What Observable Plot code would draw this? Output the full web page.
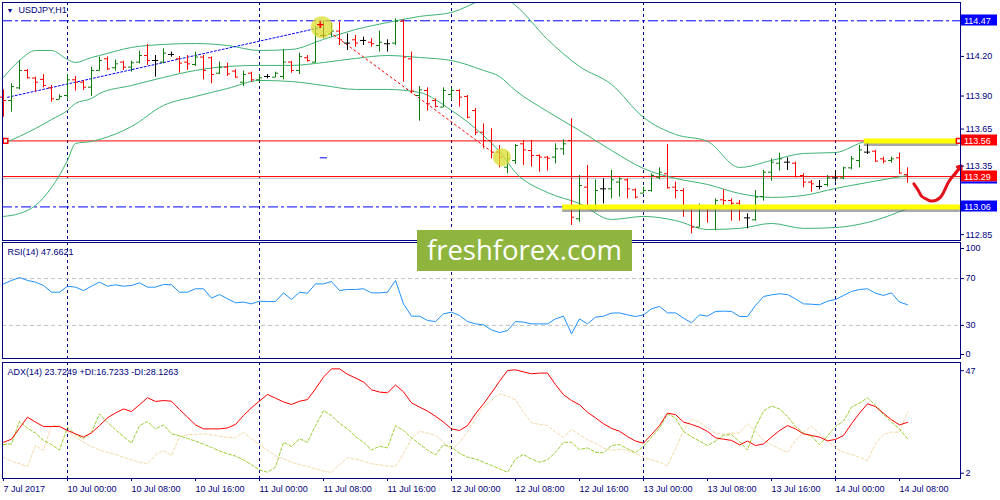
<!DOCTYPE html>
<html><head><meta charset="utf-8">
<script src="https://cdn.jsdelivr.net/npm/d3@7"></script>
<script src="https://cdn.jsdelivr.net/npm/@observablehq/plot@0.6"></script>
<style>
html,body{margin:0;padding:0;background:#fff;}
#wrap{position:relative;width:1000px;height:500px;overflow:hidden;}
.panel{position:absolute;left:0;width:1000px;}
.wm{position:absolute;left:417px;top:230px;width:215px;height:41px;background:#8fb53f;color:#fff;font-family:"Open Sans",sans-serif;font-size:27.5px;line-height:40px;text-align:center;}
</style></head><body>
<div id="wrap">
  <div class="panel" id="p1" style="top:0"></div>
  <div class="panel" id="p2" style="top:240px"></div>
  <div class="panel" id="p3" style="top:360px"></div>
  <div class="wm">freshforex.com</div>
</div>
<script>
// ---- OHLC, USDJPY H1, bar 0 = 7 Jul 16:00 ... bar 113 = 14 Jul 09:00
const open = [113.892,113.866,113.962,114.094,114.036,114.026,113.962,113.874,113.904,114.023,114.005,113.967,114.094,114.182,114.114,114.157,114.119,114.157,114.207,114.169,114.157,114.215,114.182,114.157,114.139,114.195,114.190,114.073,114.119,114.089,114.005,114.073,114.023,114.048,114.043,114.048,114.157,114.094,114.190,114.157,114.359,114.371,114.392,114.301,114.326,114.321,114.308,114.283,114.296,114.301,114.467,114.182,113.904,113.942,113.866,113.816,113.912,113.942,113.897,113.790,113.626,113.563,113.475,113.361,113.412,113.538,113.487,113.450,113.437,113.437,113.500,113.563,112.970,113.210,113.046,113.197,113.197,113.248,113.265,113.189,113.164,113.184,113.285,113.311,113.210,113.184,113.046,112.907,113.058,113.046,113.114,113.109,113.088,112.977,112.962,113.139,113.323,113.391,113.399,113.391,113.298,113.248,113.215,113.230,113.280,113.280,113.356,113.412,113.475,113.482,113.424,113.412,113.432,113.306];
const high = [113.947,113.993,114.169,114.101,114.043,114.063,113.980,113.909,114.063,114.048,114.018,114.119,114.195,114.195,114.174,114.164,114.164,114.240,114.291,114.207,114.258,114.233,114.200,114.207,114.233,114.207,114.195,114.157,114.149,114.099,114.089,114.081,114.063,114.063,114.081,114.250,114.162,114.225,114.207,114.427,114.467,114.452,114.460,114.371,114.359,114.346,114.334,114.392,114.326,114.485,114.478,114.233,113.972,113.962,113.879,113.962,113.962,113.947,113.904,113.806,113.689,113.652,113.525,113.475,113.533,113.563,113.563,113.455,113.442,113.538,113.568,113.727,113.298,113.374,113.265,113.273,113.336,113.280,113.273,113.197,113.210,113.311,113.356,113.533,113.248,113.197,113.058,113.083,113.071,113.121,113.189,113.121,113.109,113.008,113.184,113.336,113.424,113.467,113.432,113.399,113.311,113.260,113.260,113.298,113.336,113.361,113.442,113.525,113.568,113.487,113.437,113.437,113.467,113.356];
const low = [113.740,113.778,113.947,114.031,113.930,113.962,113.854,113.871,113.866,113.937,113.942,113.897,114.089,114.094,114.089,114.094,114.081,114.144,114.132,114.043,114.144,114.195,114.073,114.094,114.124,114.023,113.993,114.063,114.048,114.038,113.972,114.005,114.005,114.031,114.038,114.023,114.073,114.063,114.157,114.149,114.334,114.346,114.283,114.245,114.270,114.283,114.270,114.233,114.233,114.283,114.005,113.917,113.710,113.786,113.811,113.811,113.866,113.816,113.728,113.601,113.500,113.424,113.356,113.311,113.381,113.374,113.361,113.323,113.331,113.386,113.450,112.919,112.944,113.033,113.028,113.083,113.121,113.134,113.121,113.121,113.159,113.172,113.265,113.197,113.121,112.982,112.856,112.902,112.937,112.881,113.046,112.952,112.952,112.894,112.952,113.104,113.255,113.331,113.336,113.280,113.205,113.172,113.189,113.210,113.248,113.265,113.341,113.356,113.457,113.399,113.386,113.391,113.311,113.240];
const close = [113.866,113.972,114.094,114.038,114.005,113.980,113.879,113.897,114.023,114.005,113.967,114.094,114.169,114.106,114.144,114.119,114.152,114.207,114.169,114.169,114.225,114.215,114.149,114.144,114.195,114.094,114.063,114.119,114.068,114.043,114.063,114.023,114.038,114.048,114.073,114.157,114.094,114.200,114.169,114.371,114.359,114.392,114.326,114.301,114.301,114.321,114.296,114.308,114.296,114.467,114.195,113.937,113.947,113.841,113.821,113.942,113.942,113.892,113.740,113.626,113.563,113.475,113.437,113.424,113.525,113.492,113.450,113.437,113.429,113.500,113.538,112.982,113.222,113.058,113.184,113.197,113.265,113.273,113.197,113.134,113.184,113.298,113.323,113.205,113.184,113.046,112.907,113.058,113.046,113.109,113.109,113.088,113.053,112.977,113.134,113.323,113.399,113.424,113.399,113.290,113.248,113.235,113.215,113.280,113.280,113.356,113.424,113.492,113.475,113.407,113.407,113.424,113.316,113.290];

// ---- Bollinger bands, read at these bar indices
const bbIdx   = [0,2,4,6,8,9,11,12,16,20,24,28,32,36,40,44,48,52,56,60,62,64,68,72,76,80,84,88,92,96,100,104,108,113];
const bbUpper = [114.041,114.169,114.245,114.245,114.177,114.154,114.192,114.207,114.268,114.291,114.298,114.283,114.245,114.253,114.329,114.404,114.457,114.503,114.533,114.632,114.662,114.586,114.329,114.124,113.988,113.738,113.609,113.556,113.359,113.412,113.465,113.472,113.556,113.563];
const bbMid   = [113.541,113.594,113.654,113.722,113.791,113.844,113.882,113.919,113.980,114.041,114.094,114.124,114.132,114.132,114.154,114.185,114.207,114.192,114.169,114.094,114.048,113.942,113.783,113.639,113.488,113.351,113.276,113.230,113.162,113.132,113.147,113.200,113.245,113.298];
const bbLower = [112.988,113.010,113.071,113.207,113.412,113.541,113.556,113.571,113.669,113.829,113.897,113.957,114.018,114.010,113.980,113.950,113.950,113.927,113.791,113.601,113.480,113.321,113.169,113.086,112.965,112.988,112.957,112.889,112.897,112.935,112.897,112.904,112.942,113.048];

// ---- RSI(14)
const rsi = [65.5,68.4,70.9,68.4,67.0,64.1,58.4,58.4,63.5,62.7,59.8,63.5,67.0,63.5,64.7,63.5,64.1,66.4,62.7,62.7,65.0,64.7,58.4,58.4,61.3,61.3,53.3,56.4,52.7,49.3,49.9,48.4,50.7,50.4,50.4,57.8,52.1,58.4,57.5,65.5,65.5,67.5,59.8,60.7,60.7,61.3,57.8,57.8,58.4,68.4,48.4,37.9,37.9,34.2,33.3,39.9,41.3,38.5,33.3,31.3,30.5,26.2,23.9,25.6,33.3,32.8,31.3,31.3,31.3,35.6,37.9,22.8,35.6,31.3,37.0,37.9,40.5,40.7,39.0,37.6,39.0,44.2,46.2,40.7,40.7,36.2,32.2,39.0,37.9,41.9,42.2,41.9,37.6,37.6,47.0,54.7,56.1,57.0,56.4,52.7,48.4,48.1,47.6,50.7,52.1,55.6,59.0,60.7,61.3,57.5,55.6,57.8,49.9,47.7];
const rsiLevels = [70, 30];

// ---- ADX(14), +DI, -DI
const adx = [15.2,16.5,21.2,25.9,23.8,21.9,21.9,21.9,20.2,18.8,17.4,19.2,22.3,25.6,27.7,29.4,28.3,31.2,34.2,32.6,33.0,32.7,29.2,25.9,22.6,20.9,20.9,20.9,21.3,22.8,26.6,29.9,32.8,35.6,34.0,32.4,31.3,32.7,33.4,38.0,43.0,46.5,46.5,44.2,42.6,40.9,37.6,36.6,36.3,39.6,36.7,32.0,30.2,28.5,26.3,23.8,20.9,20.2,22.3,27.3,31.6,36.3,41.2,45.8,46.1,45.2,44.4,44.7,44.7,39.8,35.5,33.0,31.2,28.0,25.6,23.1,21.1,19.9,17.6,15.7,14.8,18.5,22.3,27.6,27.0,23.8,22.8,21.6,19.8,17.1,16.5,16.0,14.1,15.7,13.8,14.5,17.4,20.2,22.3,20.9,18.8,18.1,17.4,15.8,16.4,18.1,23.1,27.6,31.6,30.4,27.6,24.8,22.6,23.7];
const plusDI = [14.2,14.5,24.2,21.2,19.1,16.0,14.2,11.9,21.6,18.5,16.7,19.5,27.3,23.8,20.5,17.6,14.8,22.3,24.0,20.9,22.6,18.8,17.9,16.8,15.7,14.4,13.0,11.5,10.3,9.3,7.7,5.6,3.4,2.4,4.6,15.2,13.4,16.7,15.2,22.3,28.7,26.6,23.3,20.9,17.6,15.2,11.9,13.5,12.8,22.3,20.2,17.1,14.5,11.9,9.8,14.1,13.1,10.5,8.8,8.1,6.7,5.3,3.9,2.4,8.1,10.0,8.0,6.7,7.7,10.9,15.2,15.2,12.1,12.8,10.9,10.7,13.8,14.2,12.4,10.8,13.4,17.4,21.2,27.3,25.6,19.8,17.6,15.7,13.8,15.7,18.2,18.5,15.5,11.9,21.6,28.5,30.7,29.4,26.2,21.9,19.1,17.8,14.2,17.9,22.0,24.2,30.2,31.9,34.2,30.9,27.0,23.8,20.9,16.7];
const minusDI = [8.8,7.1,6.0,4.9,13.8,11.7,22.3,22.3,19.5,17.4,15.2,13.4,11.9,10.9,10.0,8.8,7.7,6.7,6.0,9.8,11.7,9.5,17.6,18.5,18.5,18.8,18.4,17.8,17.2,17.1,19.5,16.7,14.1,11.7,9.5,8.1,6.7,5.7,4.9,3.9,2.9,2.3,5.7,8.6,8.0,7.1,6.0,5.6,5.0,4.9,10.3,16.7,19.9,19.1,18.1,15.2,11.9,15.2,19.5,25.2,30.2,33.0,35.9,34.8,33.3,28.0,23.5,22.8,22.3,19.5,17.4,20.6,18.5,16.2,14.8,12.8,11.7,12.2,11.7,10.5,8.8,7.7,6.7,5.1,12.4,20.2,25.0,23.8,21.2,19.1,18.5,19.1,19.2,23.1,19.9,16.0,14.2,12.4,10.9,16.0,19.5,22.0,18.8,15.7,12.8,10.9,10.0,8.8,7.4,14.5,18.5,19.5,19.5,28.1];

// ---- axes / labels
const priceTicks = [114.20, 113.90, 113.65, 112.85];
const priceTicksRaised = [113.35];
const daySep = [8, 32, 56, 80, 104];
const xTickIdx = [0,8,16,24,32,40,48,56,64,72,80,88,96,104,112];
const xTickLabels = ["7 Jul 2017","10 Jul 00:00","10 Jul 08:00","10 Jul 16:00","11 Jul 00:00","11 Jul 08:00","11 Jul 16:00","12 Jul 00:00","12 Jul 08:00","12 Jul 16:00","13 Jul 00:00","13 Jul 08:00","13 Jul 16:00","14 Jul 00:00","14 Jul 08:00"];
const titleText = "USDJPY,H1";
const rsiLabel = "RSI(14) 47.6621";
const adxLabel = "ADX(14) 23.7249 +DI:16.7233 -DI:28.1263";

// ---- drawn objects (bar index / price)
const dashLevels = [114.47, 113.06];
const redLevels = [113.56, 113.29];
const bidLevel = [113.276];
const trendIdx = [0.5, 39.7], trendPrice = [113.89, 114.42];
const fallIdx = [40.8, 61.1], fallPrice = [114.384, 113.475];
const hlPrice = [113.56, 113.06], hlFrom = [107.6, 69.9], hlTo = [119.4, 119.6];
const circleIdx = [39.8, 62.3], circlePrice = [114.422, 113.437];
const anchorIdx = [0.25, 119.4], anchorPrice = [113.56, 113.56];
const dashMarkIdx = [39.6, 40.5], dashMarkPrice = 113.432;
const arrowIdx = [113.8, 114.3, 114.8, 115.5, 116.1, 117.1, 118.2, 119.1];
const arrowPrice = [113.235, 113.19, 113.139, 113.115, 113.104, 113.132, 113.255, 113.322];
const arrowHead = {x1: 118.8, y1: 113.30, x2: 119.7, y2: 113.37};
const boxPrices = [114.47, 113.56, 113.29, 113.06];
const boxColors = ["#0000ff", "#ff0000", "#ff0000", "#0000ff"];

// ---------------------------------------------------------------
const GREEN = "#0c7d0c", RED = "#ff0000", NAVY = "#000080";
const TICK = 0.375;
const bars = open.map((o, i) => ({i, o, h: high[i], l: low[i], c: close[i]}));
const barColor = d => d.c > d.o ? GREEN : d.c < d.o ? RED : "#000000";
const X = {type: "linear", domain: [-0.125, 119.625], range: [2, 960]};
const FONT = "'Liberation Sans', Arial, sans-serif";
const common = {
  width: 1000, marginLeft: 2, marginRight: 40,
  style: {background: "transparent", fontFamily: FONT, fontSize: "9px", color: NAVY, overflow: "visible"}
};
const bandLine = arr => Plot.line(bbIdx, {x: d => d, y: (d, j) => arr[j], stroke: "#3cb371", strokeWidth: 1, curve: "monotone-x", clip: true});

const main = Plot.plot({
  ...common, height: 242, marginTop: 2, marginBottom: 2,
  x: {...X, axis: null},
  y: {domain: [112.8056, 114.6086], range: [240, 2]},
  marks: [
    Plot.ruleX(daySep, {stroke: NAVY, strokeDasharray: "3,3"}),
    Plot.ruleY(bidLevel, {stroke: "#c8c8c8"}),
    Plot.ruleY(dashLevels, {stroke: "#0000ff", strokeDasharray: "10,3,3,3"}),
    Plot.ruleY(redLevels, {stroke: "#ff0000"}),
    bandLine(bbUpper), bandLine(bbMid), bandLine(bbLower),
    Plot.line(trendIdx, {x: d => d, y: (d, j) => trendPrice[j], stroke: "#0000ff", strokeWidth: 1, strokeDasharray: "2,2"}),
    Plot.line(fallIdx, {x: d => d, y: (d, j) => fallPrice[j], stroke: "#ff0000", strokeWidth: 1, strokeDasharray: "2,3"}),
    Plot.ruleY([dashMarkPrice], {x1: dashMarkIdx[0], x2: dashMarkIdx[1], stroke: "#0000ff"}),
    Plot.ruleX(bars, {x: "i", y1: "l", y2: "h", stroke: barColor}),
    Plot.ruleY(bars, {y: "o", x1: d => d.i - TICK, x2: "i", stroke: barColor}),
    Plot.ruleY(bars, {y: "c", x1: "i", x2: d => d.i + TICK, stroke: barColor}),
    Plot.ruleY(hlPrice, {x1: (d, j) => hlFrom[j], x2: (d, j) => hlTo[j], stroke: "#606060", strokeOpacity: 0.55, strokeWidth: 4, dy: 3, ariaLabel: "hlshadow"}),
    Plot.ruleY(hlPrice, {x1: (d, j) => hlFrom[j], x2: (d, j) => hlTo[j], stroke: "#ffff00", strokeWidth: 5, ariaLabel: "hl"}),
    Plot.dot(circleIdx, {x: d => d, y: (d, j) => circlePrice[j], r: 11, fill: "#dcdc30", fillOpacity: 0.75, ariaLabel: "hl", filter: (d, j) => j === 0}),
    Plot.dot(circleIdx, {x: d => d, y: (d, j) => circlePrice[j], r: 9, fill: "#dcdc30", fillOpacity: 0.75, ariaLabel: "hl", filter: (d, j) => j === 1}),
    Plot.text([circleIdx[0]], {x: d => d - 0.2, y: circlePrice[0] + 0.02, text: ["+"], fill: "#ff0000", fontWeight: "bold", fontSize: 13}),
    Plot.dot(anchorIdx, {x: d => d, y: (d, j) => anchorPrice[j], symbol: "square", r: 2.6, stroke: "#ff0000", fill: "#fff"}),
    Plot.line(arrowIdx, {x: d => d, y: (d, j) => arrowPrice[j], stroke: "#e3101a", strokeWidth: 3, curve: "catmull-rom"}),
    Plot.arrow([arrowHead], {x1: "x1", y1: "y1", x2: "x2", y2: "y2", stroke: "#e3101a", strokeWidth: 3, headLength: 15, headAngle: 75}),
    Plot.axisY({anchor: "right", ticks: priceTicks, tickFormat: d => d.toFixed(2), tickSize: 3, tickPadding: 2, label: null}),
    Plot.axisY({anchor: "right", ticks: priceTicksRaised, tickFormat: d => d.toFixed(2), tickSize: 3, tickPadding: 2, dy: -2.5, label: null}),
    Plot.frame({stroke: NAVY}),
    Plot.text(["▼"], {frameAnchor: "top-left", dx: 4, dy: 6, fontSize: 7, textAnchor: "start", lineAnchor: "top", fill: NAVY}),
    Plot.text([titleText], {frameAnchor: "top-left", dx: 16, dy: 4, textAnchor: "start", lineAnchor: "top", fill: NAVY})
  ]
});
document.getElementById("p1").appendChild(main);

// price label boxes at the right axis, positioned by Plot's own y scale
{
  const ys = main.scale("y");
  const svg = d3.select(main);
  svg.selectAll('[aria-label="hl"]').style("mix-blend-mode", "multiply");
  svg.selectAll('[aria-label="hlshadow"]').style("filter", "blur(1.5px)");
  const g = svg.append("g").attr("text-anchor", "start");
  boxPrices.forEach((p, k) => {
    const y = Math.round(ys.apply(p));
    g.append("rect").attr("x", 961).attr("y", y - 5.5).attr("width", 36).attr("height", 11).attr("fill", boxColors[k]);
    g.append("text").attr("x", 964).attr("y", y + 0.5).attr("dy", "0.34em").attr("text-anchor", "start")
      .attr("fill", "#fff").attr("font-size", 9).attr("font-family", FONT).text(p.toFixed(2));
  });
  const yb = Math.round(ys.apply(redLevels[1]));
  g.append("rect").attr("x", 961).attr("y", yb + 5.5).attr("width", 36).attr("height", 2).attr("fill", "#0000ff");
}

const rsiPlot = Plot.plot({
  ...common, height: 120, marginTop: 2, marginBottom: 2,
  x: {...X, axis: null},
  y: {domain: [0, 100], range: [120, 3]},
  marks: [
    Plot.ruleX(daySep, {stroke: NAVY, strokeDasharray: "3,3"}),
    Plot.ruleY(rsiLevels, {stroke: "#c0c0c0", strokeDasharray: "4,3"}),
    Plot.lineY(rsi, {x: (d, i) => i, stroke: "#1e90ff", strokeWidth: 1, clip: true}),
    Plot.axisY({anchor: "right", ticks: [70, 30], tickSize: 3, tickPadding: 2, label: null}),
    Plot.axisY({anchor: "right", ticks: [100], dy: 5, tickSize: 3, tickPadding: 2, label: null}),
    Plot.axisY({anchor: "right", ticks: [0], dy: -6, tickSize: 3, tickPadding: 2, label: null}),
    Plot.frame({stroke: NAVY}),
    Plot.text([rsiLabel], {frameAnchor: "top-left", dx: 5, dy: 6, textAnchor: "start", lineAnchor: "top", fill: NAVY})
  ]
});
document.getElementById("p2").appendChild(rsiPlot);

const adxPlot = Plot.plot({
  ...common, height: 140, marginTop: 2, marginBottom: 22,
  x: {...X},
  y: {domain: [2, 47], range: [112.7, 7.2]},
  marks: [
    Plot.ruleX(daySep, {stroke: NAVY, strokeDasharray: "3,3"}),
    Plot.lineY(minusDI, {x: (d, i) => i, stroke: "#f5d9a8", strokeWidth: 1, strokeDasharray: "3,2", clip: true}),
    Plot.lineY(plusDI, {x: (d, i) => i, stroke: "#9acd32", strokeWidth: 1, strokeDasharray: "3,2", clip: true}),
    Plot.lineY(adx, {x: (d, i) => i, stroke: "#ff0000", strokeWidth: 1, clip: true}),
    Plot.axisY({anchor: "right", ticks: [47], dy: 3, tickSize: 3, tickPadding: 2, label: null}),
    Plot.axisY({anchor: "right", ticks: [2], tickSize: 3, tickPadding: 2, label: null}),
    Plot.axisX({anchor: "bottom", ticks: xTickIdx, tickFormat: d => xTickLabels[xTickIdx.indexOf(d)], textAnchor: "start", tickSize: 3, tickPadding: 4, label: null}),
    Plot.frame({stroke: NAVY}),
    Plot.text([adxLabel], {frameAnchor: "top-left", dx: 5, dy: 6, textAnchor: "start", lineAnchor: "top", fill: NAVY})
  ]
});
document.getElementById("p3").appendChild(adxPlot);
</script>
</body></html>
